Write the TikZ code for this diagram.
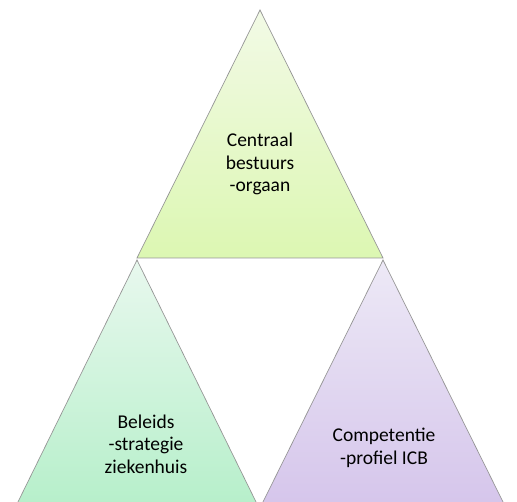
\documentclass[tikz,border=0pt]{standalone}
\usepackage{fontspec}
\setmainfont{Carlito}
\definecolor{gtop}{RGB}{242,250,230}
\definecolor{gbot}{RGB}{220,247,178}
\definecolor{ltop}{RGB}{232,248,238}
\definecolor{lbot}{RGB}{182,239,202}
\definecolor{rtop}{RGB}{237,233,246}
\definecolor{rbot}{RGB}{213,197,235}
\definecolor{edge}{RGB}{150,150,150}
\begin{document}
\begin{tikzpicture}[x=1pt,y=-1pt,
  tri/.style={draw=edge,line width=0.7pt},
  lbl/.style={align=center,font=\fontsize{19.5}{22.5}\selectfont,text=black}]
\useasboundingbox (0,0) rectangle (517,502);
\begin{scope}
\clip (0,0) rectangle (517,502);
\path[tri,top color=gtop,bottom color=gbot]
  (260,10) -- (383,258) -- (137,258) -- cycle;
\path[tri,top color=ltop,bottom color=lbot]
  (137,260) -- (259,508) -- (15,508) -- cycle;
\path[tri,top color=rtop,bottom color=rbot]
  (383,260) -- (506,508) -- (260,508) -- cycle;
\end{scope}
\node[lbl] (top) at (260,164) {Centraal\\bestuurs\\-orgaan};
\node[lbl] (left) at (146,444) {Beleids\\-strategie\\ziekenhuis};
\node[lbl] (right) at (384,448) {Competentie\\-profiel ICB};
\end{tikzpicture}
\end{document}
